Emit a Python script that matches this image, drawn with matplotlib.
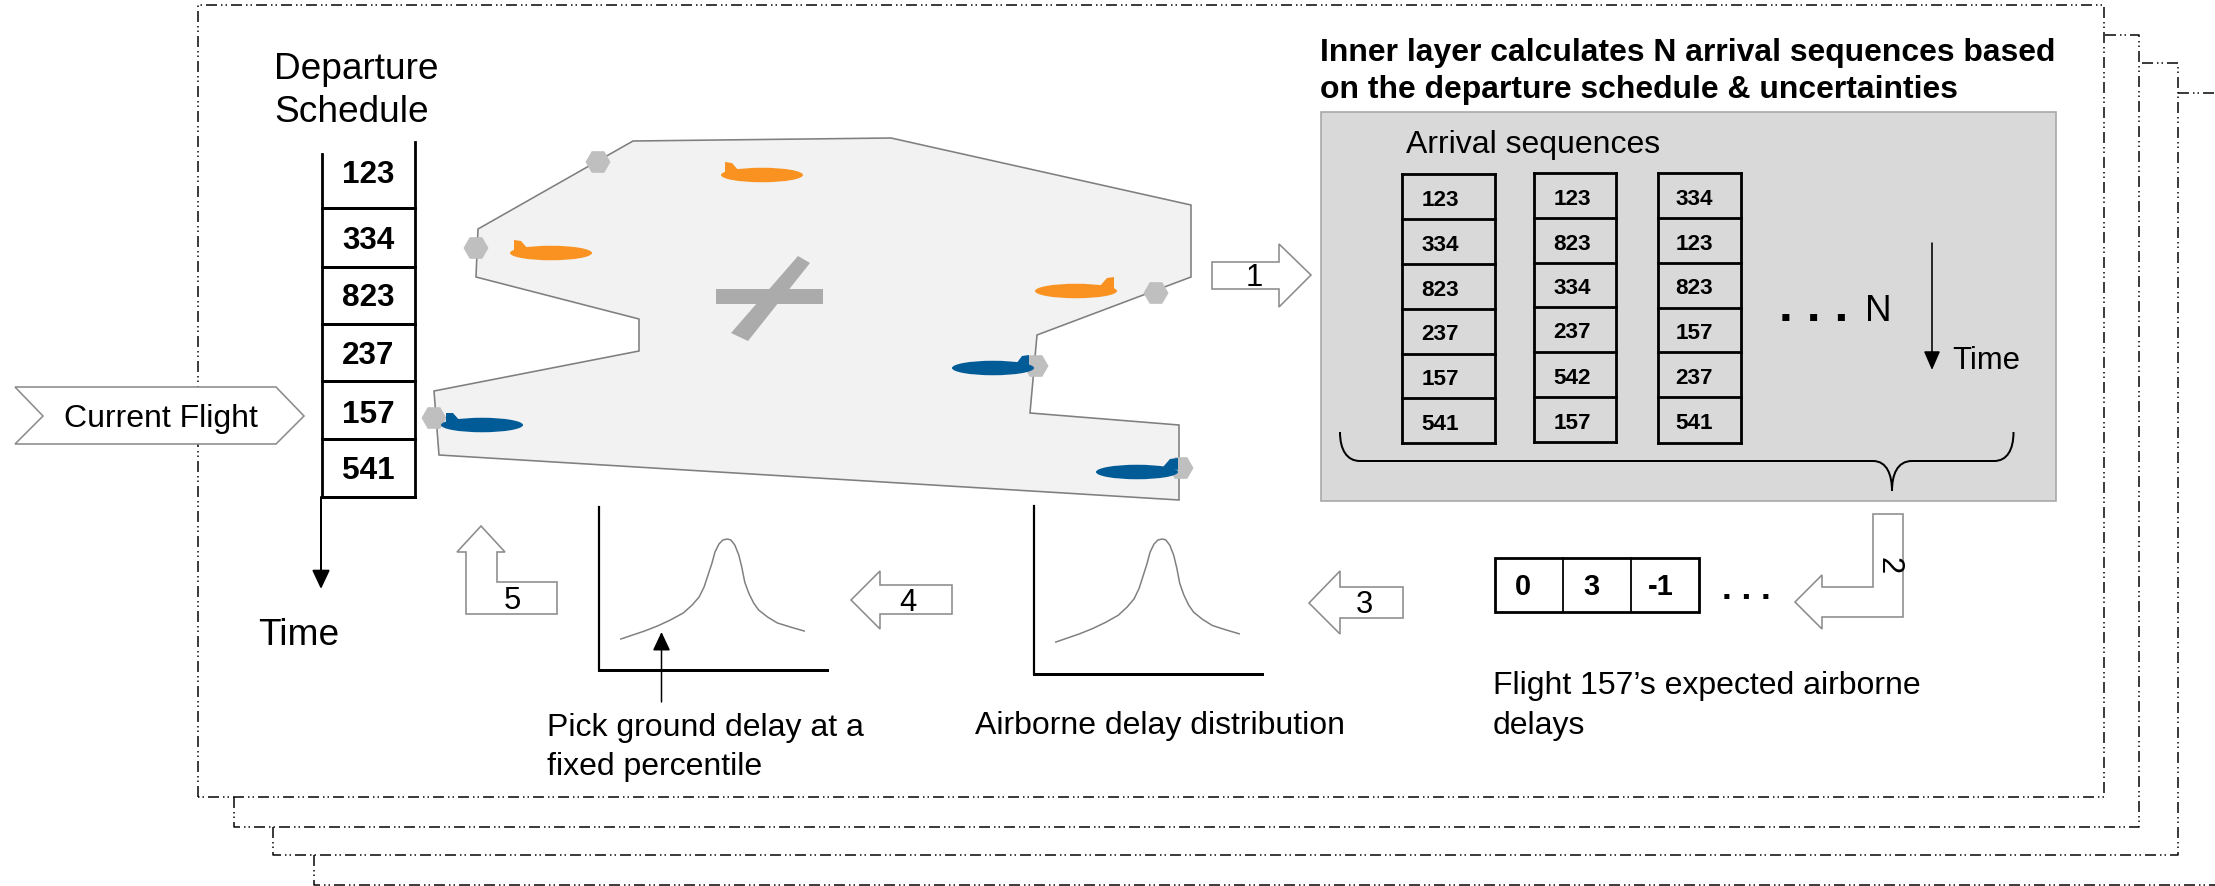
import matplotlib
matplotlib.use('Agg')
import matplotlib.pyplot as plt
from matplotlib.patches import Polygon, Ellipse, RegularPolygon, PathPatch, Rectangle
from matplotlib.path import Path
import numpy as np

plt.rcParams['font.family'] = ['Liberation Sans', 'DejaVu Sans']
plt.rcParams['lines.scale_dashes'] = False

# flight ids and delays
schedule = ['123', '334', '823', '237', '157', '541']
seq_a = ['123', '334', '823', '237', '157', '541']
seq_b = ['123', '823', '334', '237', '542', '157']
seq_c = ['334', '123', '823', '157', '237', '541']
delays = ['0', '3', '-1']

# distribution curve
delay_x = [22, 34, 46, 59, 72, 85, 94, 101, 106, 110, 114, 117, 121, 125, 129.5,
           133, 137, 141, 144, 147, 151, 156, 161, 170, 180, 193, 207]
density = [31, 35, 39, 44, 50, 57, 65, 73, 83, 95, 107, 118, 126, 130, 131,
           130, 125, 115, 103, 88, 77, 67, 60, 53, 47, 43, 39]

W, H = 2215, 886
BLACK = '#000000'
ARROW_EDGE = '#8c8c8c'
ORANGE = '#f99220'
BLUE = '#005b97'
HEX = '#bfbfbf'
TXT = 32


def pt(px):
    # everything below is measured in pixels of the 100 dpi image
    return px * 0.72


fig = plt.figure(figsize=(W / 100, H / 100), dpi=100)
ax = fig.add_axes([0, 0, 1, 1])
ax.set_xlim(0, W)
ax.set_ylim(H, 0)
ax.axis('off')

# stacked dash-dot frames
dash = (0, (pt(11), pt(4), pt(1.5), pt(3), pt(1.5), pt(4)))
frames = [
    ([198, 198, 2104, 2104, 198], [797, 5, 5, 797, 797]),
    ([234, 234, 2139, 2139, 2104], [797, 827, 827, 35, 35]),
    ([273, 273, 2178, 2178, 2139], [827, 855, 855, 63, 63]),
    ([314, 314, 2215], [855, 885, 885]),
    ([2178, 2215], [93, 93]),
]
for fx, fy in frames:
    ax.plot(fx, fy, color=BLACK, lw=pt(1.5), ls=dash, zorder=1)


def block(pts, label=None, lx=0, ly=0, rot=0):
    ax.add_patch(Polygon(pts, closed=True, fc='white', ec=ARROW_EDGE, lw=pt(1.6), zorder=3))
    if label:
        ax.text(lx, ly, label, fontsize=pt(31), ha='center', va='center', rotation=rot, zorder=4)


# current flight tag
block([(15, 387), (276, 387), (304, 416), (276, 444), (15, 444), (43, 416)])
ax.text(64, 419, 'Current Flight', fontsize=pt(TXT), ha='left', va='center', zorder=4)

# departure schedule
ax.text(274, 79, 'Departure', fontsize=pt(37), ha='left', va='baseline')
ax.text(274, 122, 'Schedule', fontsize=pt(37), ha='left', va='baseline')
ax.text(258, 645, 'Time', fontsize=pt(37), ha='left', va='baseline')

sched_lines = [208, 267, 324, 381, 439, 497]
sched_text = [175, 241, 298, 356, 415, 471]
ax.plot([322, 322], [154, 497], color=BLACK, lw=pt(2.8))
ax.plot([415, 415], [142, 497], color=BLACK, lw=pt(2.8))
for yl in sched_lines:
    ax.plot([322, 415], [yl, yl], color=BLACK, lw=pt(3))
for name, yt in zip(schedule, sched_text):
    ax.text(368, yt, name, fontsize=pt(31.5), fontweight='bold', ha='center', va='center')


def down_arrow(x0, y0, x1, y1, lw=2, hl=16, hw=7.5):
    ax.annotate('', xy=(x1, y1), xytext=(x0, y0),
                arrowprops=dict(arrowstyle='-|>,head_length=%.2f,head_width=%.2f' % (pt(hl) / 10, pt(hw) / 10),
                                mutation_scale=10, color=BLACK, lw=pt(lw), shrinkA=0, shrinkB=0),
                zorder=5)


down_arrow(321, 497, 321, 589)

# sector
sector = [(633, 141), (891, 138), (1191, 205), (1191, 277), (1037, 335), (1030, 413), (1179, 425),
          (1179, 500), (439, 455), (434, 391), (639, 351), (639, 319), (476, 277), (478, 229)]
ax.add_patch(Polygon(sector, closed=True, fc='#f2f2f2', ec='#7f7f7f', lw=pt(1.6), zorder=2))

# runways
ax.add_patch(Rectangle((716, 289), 107, 15, fc='#ababab', ec='none', zorder=2))
ax.add_patch(Polygon([(798, 256), (810, 263), (748, 341), (731, 333)], fc='#ababab', ec='none', zorder=2))

# fixes
for hx, hy in [(598, 162), (476, 248), (434, 418), (1156, 293), (1036, 366), (1181, 468)]:
    ax.add_patch(RegularPolygon((hx, hy), 6, radius=12.5, orientation=np.pi / 6, fc=HEX, ec='none', zorder=3))

# planes: ellipse + tail
planes = [
    (551, 253, ORANGE, [(514, 240), (521, 241), (528, 249), (514, 251)]),
    (762, 175, ORANGE, [(725, 162), (732, 163), (739, 171), (725, 173)]),
    (482, 425, BLUE, [(446, 413), (453, 413), (460, 421), (446, 423)]),
    (1076, 291, ORANGE, [(1114, 277), (1107, 278), (1100, 286), (1114, 290)]),
    (993, 368, BLUE, [(1029, 355), (1022, 356), (1016, 364), (1029, 367)]),
    (1137, 472, BLUE, [(1178, 458), (1170, 459), (1163, 467), (1178, 470)]),
]
for px, py, col, tail in planes:
    ax.add_patch(Ellipse((px, py), 82, 14.5, fc=col, ec='none', zorder=4))
    ax.add_patch(Polygon(tail, fc=col, ec='none', zorder=4))

# numbered arrows
block([(1212, 262), (1279, 262), (1279, 244), (1311, 275), (1279, 307), (1279, 289), (1212, 289)],
      '1', 1254, 278)
block([(1873, 514), (1903, 514), (1903, 617), (1822, 617), (1822, 629), (1795, 602), (1822, 575),
       (1822, 587), (1873, 587)], '2', 1889, 566, 270)
block([(1309, 603), (1340, 571), (1340, 587), (1403, 587), (1403, 618), (1340, 618), (1340, 634)],
      '3', 1364, 605)
block([(851, 600), (880, 571), (880, 585), (952, 585), (952, 614), (880, 614), (880, 629)],
      '4', 908, 603)
block([(481, 526), (505, 552), (497, 552), (497, 582), (557, 582), (557, 614), (466, 614), (466, 552),
       (457, 552)], '5', 512, 601)

# inner layer panel
ax.text(1320, 61, 'Inner layer calculates N arrival sequences based', fontsize=pt(31.9),
        fontweight='bold', ha='left', va='baseline')
ax.text(1320, 98, 'on the departure schedule & uncertainties', fontsize=pt(31.9),
        fontweight='bold', ha='left', va='baseline')
ax.add_patch(Rectangle((1321, 112), 735, 389, fc='#d9d9d9', ec='#a6a6a6', lw=pt(1.6), zorder=2))
ax.text(1406, 153, 'Arrival sequences', fontsize=pt(TXT), ha='left', va='baseline', zorder=4)

columns = [
    (seq_a, 1402, 1495, 1440, [174, 219, 264, 309, 354, 398, 443]),
    (seq_b, 1534, 1616, 1572, [173, 218, 263, 307, 352, 397, 442]),
    (seq_c, 1658, 1741, 1694, [173, 218, 263, 308, 352, 397, 443]),
]
for names, x0, x1, xt, ys in columns:
    ax.plot([x0, x0], [ys[0], ys[-1]], color=BLACK, lw=pt(2.8), zorder=4)
    ax.plot([x1, x1], [ys[0], ys[-1]], color=BLACK, lw=pt(2.8), zorder=4)
    for yl in ys:
        ax.plot([x0, x1], [yl, yl], color=BLACK, lw=pt(2.8), zorder=4)
    for i, name in enumerate(names):
        ax.text(xt, (ys[i] + ys[i + 1]) / 2 + 3.5, name, fontsize=pt(22.5), fontweight='bold',
                ha='center', va='center', zorder=5)

ax.text(1814, 321, '. . .', fontsize=pt(50), fontweight='bold', ha='center', va='baseline', zorder=4)
ax.text(1878, 321, 'N', fontsize=pt(37), ha='center', va='baseline', zorder=4)
down_arrow(1932, 243, 1932, 370, lw=1.6, hl=16, hw=7)
ax.text(1952, 369, 'Time', fontsize=pt(31), ha='left', va='baseline', zorder=4)

# curly brace under the sequences
brace = Path([(1340, 432), (1340, 450), (1347, 461), (1360, 461), (1873, 461),
              (1887, 461), (1892, 475), (1892, 491),
              (1892, 475), (1897, 461), (1912, 461), (1994, 461),
              (2007, 461), (2013.5, 450), (2013.5, 432)],
             [Path.MOVETO, Path.CURVE4, Path.CURVE4, Path.CURVE4, Path.LINETO,
              Path.CURVE4, Path.CURVE4, Path.CURVE4,
              Path.CURVE4, Path.CURVE4, Path.CURVE4, Path.LINETO,
              Path.CURVE4, Path.CURVE4, Path.CURVE4])
ax.add_patch(PathPatch(brace, fc='none', ec=BLACK, lw=pt(2), zorder=4))

# delay strip
strip_x = [1495, 1563, 1631, 1699]
strip_text = [1523, 1591, 1661]
ax.add_patch(Rectangle((1495, 558), 204, 54, fc='white', ec=BLACK, lw=pt(2.8), zorder=3))
for xl in strip_x[1:-1]:
    ax.plot([xl, xl], [558, 612], color=BLACK, lw=pt(1.8), zorder=4)
for val, xt in zip(delays, strip_text):
    ax.text(xt, 587, val, fontsize=pt(29), fontweight='bold', ha='center', va='center', zorder=4)
ax.text(1746, 599, '. . .', fontsize=pt(35), ha='center', va='baseline', fontweight='bold')

ax.text(1493, 694, 'Flight 157\u2019s expected airborne', fontsize=pt(TXT), ha='left', va='baseline')
ax.text(1493, 734, 'delays', fontsize=pt(TXT), ha='left', va='baseline')


def dist_axes(x0, top, x1, bottom):
    a = fig.add_axes([x0 / W, 1 - bottom / H, (x1 - x0) / W, (bottom - top) / H])
    a.patch.set_alpha(0)
    a.plot(delay_x, density, color='#7f7f7f', lw=pt(1.5))
    a.set_xlim(0, 230)
    a.set_ylim(0, 163)
    a.set_xticks([])
    a.set_yticks([])
    a.spines['top'].set_visible(False)
    a.spines['right'].set_visible(False)
    a.spines['left'].set_linewidth(pt(2.2))
    a.spines['bottom'].set_linewidth(pt(3))
    return a


dist_axes(599, 507, 827, 670)
dist_axes(1034, 506, 1262, 674)

down_arrow(661.5, 702, 661.5, 632, lw=1.5)
ax.text(547, 736, 'Pick ground delay at a', fontsize=pt(TXT), ha='left', va='baseline')
ax.text(547, 775, 'fixed percentile', fontsize=pt(TXT), ha='left', va='baseline')
ax.text(975, 734, 'Airborne delay distribution', fontsize=pt(TXT), ha='left', va='baseline')

fig.savefig('out.png', dpi=100)
